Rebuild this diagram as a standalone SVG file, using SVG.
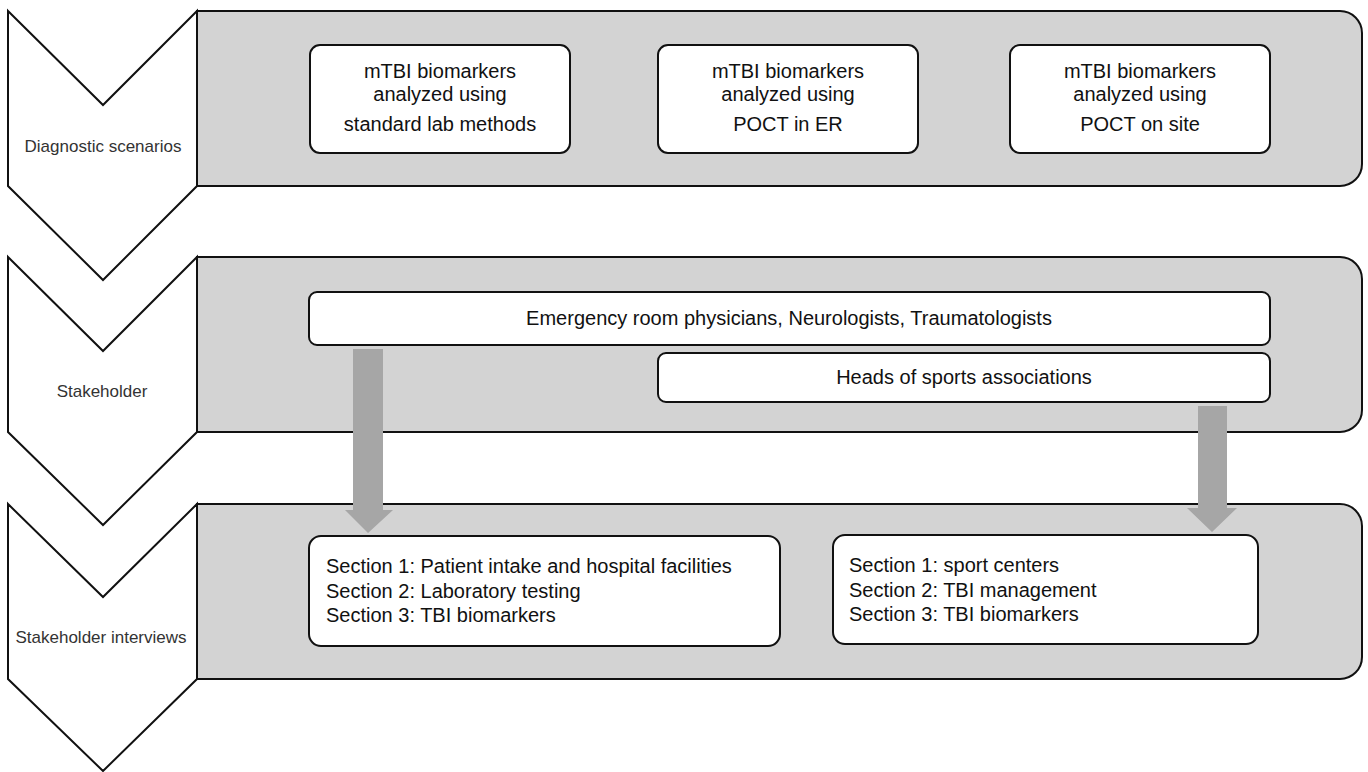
<svg xmlns="http://www.w3.org/2000/svg" width="1368" height="772" viewBox="0 0 1368 772">
<style>
.chev{fill:#ffffff;stroke:#111;stroke-width:2;stroke-linejoin:miter}
.panel{fill:#d3d3d3;stroke:#111;stroke-width:2}
.box{fill:#ffffff;stroke:#111;stroke-width:2}
.lbl{font-family:"Liberation Sans",Arial,sans-serif;font-size:17px;fill:#333;text-anchor:middle}
.t{font-family:"Liberation Sans",Arial,sans-serif;font-size:20px;fill:#111}
.c{text-anchor:middle}
.arrow{fill:#a6a6a6;stroke:none}
</style>
<rect width="1368" height="772" fill="#ffffff"/>
<g id="panel-diagnostic">
<path class="panel" d="M197,11 H1340 A22,22 0 0 1 1362,33 V164 A22,22 0 0 1 1340,186 H197 Z"/>
</g>
<g id="panel-stakeholder">
<path class="panel" d="M197,257 H1340 A22,22 0 0 1 1362,279 V410 A22,22 0 0 1 1340,432 H197 Z"/>
</g>
<g id="panel-interviews">
<path class="panel" d="M197,504 H1340 A22,22 0 0 1 1362,526 V657 A22,22 0 0 1 1340,679 H197 Z"/>
</g>
<g id="chevron-diagnostic">
<polygon class="chev" points="8,11 103,105 197,11 197,186 103,280 8,186"/>
<text class="lbl" x="103" y="152">Diagnostic scenarios</text>
</g>
<g id="chevron-stakeholder">
<polygon class="chev" points="8,257 103,351 197,257 197,432 103,525 8,432"/>
<text class="lbl" x="102" y="397">Stakeholder</text>
</g>
<g id="chevron-interviews">
<polygon class="chev" points="8,504 103,597 197,504 197,679 103,771 8,679"/>
<text class="lbl" x="101" y="643">Stakeholder interviews</text>
</g>
<g id="box-lab">
<rect class="box" x="310" y="45" width="260" height="108" rx="10"/>
<text class="t c" x="440" y="78">mTBI biomarkers</text>
<text class="t c" x="440" y="101">analyzed using</text>
<text class="t c" x="440" y="131">standard lab methods</text>
</g>
<g id="box-er">
<rect class="box" x="658" y="45" width="260" height="108" rx="10"/>
<text class="t c" x="788" y="78">mTBI biomarkers</text>
<text class="t c" x="788" y="101">analyzed using</text>
<text class="t c" x="788" y="131">POCT in ER</text>
</g>
<g id="box-site">
<rect class="box" x="1010" y="45" width="260" height="108" rx="10"/>
<text class="t c" x="1140" y="78">mTBI biomarkers</text>
<text class="t c" x="1140" y="101">analyzed using</text>
<text class="t c" x="1140" y="131">POCT on site</text>
</g>
<g id="box-physicians">
<rect class="box" x="309" y="292" width="961" height="53" rx="8"/>
<text class="t c" x="789" y="325">Emergency room physicians, Neurologists, Traumatologists</text>
</g>
<g id="box-sports">
<rect class="box" x="658" y="353" width="612" height="49" rx="8"/>
<text class="t c" x="964" y="384">Heads of sports associations</text>
</g>
<g id="connectors">
<polygon class="arrow" points="353,349 383,349 383,510 393,510 368,533 345,510 353,510"/>
<polygon class="arrow" points="1198,406 1227,406 1227,508 1237,508 1212,532 1187,508 1198,508"/>
</g>
<g id="box-hospital">
<rect class="box" x="309" y="536" width="471" height="110" rx="12"/>
<text class="t" x="326" y="573">Section 1: Patient intake and hospital facilities</text>
<text class="t" x="326" y="598">Section 2: Laboratory testing</text>
<text class="t" x="326" y="622">Section 3: TBI biomarkers</text>
</g>
<g id="box-sport-centers">
<rect class="box" x="833" y="535" width="425" height="109" rx="12"/>
<text class="t" x="849" y="572">Section 1: sport centers</text>
<text class="t" x="849" y="597">Section 2: TBI management</text>
<text class="t" x="849" y="621">Section 3: TBI biomarkers</text>
</g>
</svg>
